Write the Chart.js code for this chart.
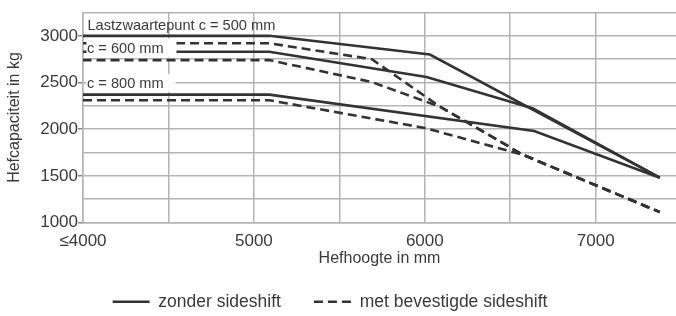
<!DOCTYPE html>
<html>
<head>
<meta charset="utf-8">
<script src="https://cdn.jsdelivr.net/npm/chart.js@4.4.1/dist/chart.umd.min.js"></script>
<style>
  html, body { margin: 0; padding: 0; background: #fff; }
  canvas { display: block; }
</style>
</head>
<body>
<canvas id="liftChart" width="676" height="316"></canvas>
<script>
// hefhoogte (mm) en hefcapaciteit (kg) per lastzwaartepunt
const solid500X = [4000, 5090, 6030, 7375];
const solid500Y = [3000, 3000, 2800, 1480];
const solid600X = [4000, 5090, 6010, 6630, 7375];
const solid600Y = [2830, 2830, 2560, 2225, 1480];
const solid800X = [4000, 5090, 6640, 7375];
const solid800Y = [2370, 2370, 1980, 1480];

const dashed500X = [4000, 5090, 5690, 6090, 6575, 7375];
const dashed500Y = [2920, 2920, 2750, 2240, 1725, 1112];
const dashed600X = [4000, 5090, 5690, 6090, 6575, 7375];
const dashed600Y = [2740, 2740, 2505, 2240, 1725, 1112];
const dashed800X = [4000, 5090, 6000, 6575, 7375];
const dashed800Y = [2310, 2310, 2013, 1725, 1112];

const xGridValues = [4000, 4500, 5000, 5500, 6000, 6500, 7000];
const xTickLabels = { 4000: '≤4000', 5000: '5000', 6000: '6000', 7000: '7000' };
const yTickLabels = [1000, 1500, 2000, 2500, 3000];

const seriesLabels = ['zonder sideshift', 'met bevestigde sideshift'];
const curveLabels = ['Lastzwaartepunt c = 500 mm', 'c = 600 mm', 'c = 800 mm'];

const LINE = '#333333';
const GRID = '#b4b4b4';
const TEXT = '#3a3a3a';
const FONT = "'Liberation Sans', Arial, sans-serif";
const DASH = [9, 5];

function pts(xs, ys) {
    return xs.map((x, i) => ({ x: x, y: ys[i] }));
}

function makeSet(label, xs, ys, dashed) {
    return {
        label: label,
        data: pts(xs, ys),
        borderColor: LINE,
        backgroundColor: LINE,
        borderWidth: 2.6,
        borderDash: dashed ? DASH : [],
        borderDashOffset: 0,
        pointRadius: 0,
        pointHoverRadius: 0,
        tension: 0,
        fill: false
    };
}

// streepjes van samenvallende stippellijnen gelijk laten lopen
const dashSync = {
    id: 'dashSync',
    afterLayout(chart) {
        const xs = chart.scales.x;
        const ys = chart.scales.y;
        const period = DASH[0] + DASH[1];
        const mergeX = 6575;
        const lenTo = (X, Y) => {
            let L = 0;
            for (let i = 1; i < X.length && X[i - 1] < mergeX; i++) {
                const dx = xs.getPixelForValue(X[i]) - xs.getPixelForValue(X[i - 1]);
                const dy = ys.getPixelForValue(Y[i]) - ys.getPixelForValue(Y[i - 1]);
                L += Math.hypot(dx, dy);
            }
            return L;
        };
        const ref = lenTo(dashed800X, dashed800Y);
        const sets = chart.data.datasets;
        sets[3].borderDashOffset = (((ref - lenTo(dashed500X, dashed500Y)) % period) + period) % period;
        sets[4].borderDashOffset = (((ref - lenTo(dashed600X, dashed600Y)) % period) + period) % period;
    }
};

// tekst bij de curves, met witte achtergrond voor c = 600 / c = 800
const curveText = {
    id: 'curveText',
    beforeDraw(chart) {
        // legenda iets naar links, zoals in het origineel
        if (chart.legend) chart.legend.right = chart.width - 16;
    },
    afterDatasetsDraw(chart) {
        const ctx = chart.ctx;
        const xs = chart.scales.x;
        const ys = chart.scales.y;
        const left = xs.getPixelForValue(4000);
        ctx.save();
        ctx.font = '14.6px ' + FONT;
        ctx.fillStyle = TEXT;
        ctx.textBaseline = 'alphabetic';
        ctx.textAlign = 'left';

        ctx.fillText(curveLabels[0], left + 4.5, ys.getPixelForValue(3000) - 5.8);

        // c = 600 mm
        let yc = (ys.getPixelForValue(3000) + ys.getPixelForValue(2740)) / 2;
        ctx.fillStyle = '#fff';
        ctx.fillRect(left + 3.5, yc - 9.5, 90, 19);
        ctx.fillStyle = TEXT;
        ctx.fillText(curveLabels[1], left + 4, yc + 5.2);

        // c = 800 mm
        yc = ys.getPixelForValue(2500) + 1;
        ctx.fillStyle = '#fff';
        ctx.fillRect(left + 3.5, yc - 9.5, 89, 18);
        ctx.fillStyle = TEXT;
        ctx.fillText(curveLabels[2], left + 4, yc + 4.8);
        ctx.restore();
    }
};

const chart = new Chart(document.getElementById('liftChart'), {
    type: 'line',
    data: {
        datasets: [
            makeSet(seriesLabels[0], solid500X, solid500Y, false),
            makeSet(seriesLabels[0], solid600X, solid600Y, false),
            makeSet(seriesLabels[0], solid800X, solid800Y, false),
            makeSet(seriesLabels[1], dashed500X, dashed500Y, true),
            makeSet(seriesLabels[1], dashed600X, dashed600Y, true),
            makeSet(seriesLabels[1], dashed800X, dashed800Y, true)
        ]
    },
    options: {
        responsive: false,
        animation: false,
        layout: { padding: { top: 12.5, right: 0, bottom: 0, left: 0 } },
        plugins: {
            tooltip: { enabled: false },
            legend: {
                position: 'bottom',
                maxHeight: 56,
                labels: {
                    usePointStyle: true,
                    pointStyle: 'line',
                    pointStyleWidth: 37,
                    padding: 33,
                    color: TEXT,
                    font: { family: FONT, size: 17.5 },
                    filter: item => item.datasetIndex === 0 || item.datasetIndex === 3,
                    generateLabels(chart) {
                        const items = Chart.defaults.plugins.legend.labels.generateLabels(chart);
                        return items.map(item => {
                            const ds = chart.data.datasets[item.datasetIndex];
                            item.lineDash = ds.borderDash;
                            item.lineDashOffset = 0;
                            item.lineWidth = ds.borderWidth;
                            item.strokeStyle = ds.borderColor;
                            item.pointStyle = 'line';
                            return item;
                        });
                    }
                }
            }
        },
        scales: {
            x: {
                type: 'linear',
                min: 4000,
                max: 7470,
                bounds: 'data',
                afterBuildTicks: s => { s.ticks = xGridValues.map(v => ({ value: v })); },
                afterFit: s => { s.height = 37.5; },
                grid: { color: GRID, lineWidth: 1.5, drawTicks: false },
                border: { color: GRID, width: 1.5 },
                ticks: {
                    autoSkip: false,
                    maxRotation: 0,
                    padding: 9,
                    color: TEXT,
                    font: { family: FONT, size: 17 },
                    callback: v => xTickLabels[v] || ''
                },
                title: {
                    display: true,
                    text: 'Hefhoogte in mm',
                    color: TEXT,
                    font: { family: FONT, size: 16 },
                    padding: { top: 0, bottom: -8 }
                }
            },
            y: {
                min: 1000,
                max: 3250,
                afterFit: s => { s.width = 83; },
                grid: {
                    color: GRID,
                    lineWidth: 1.5,
                    drawTicks: true,
                    tickLength: 5,
                    tickColor: c => (c.tick && yTickLabels.includes(c.tick.value)) ? '#888' : 'rgba(0,0,0,0)'
                },
                border: { color: GRID, width: 1.5 },
                ticks: {
                    stepSize: 250,
                    autoSkip: false,
                    padding: 0,
                    color: TEXT,
                    font: { family: FONT, size: 17 },
                    callback: v => yTickLabels.includes(v) ? String(v) : ''
                },
                title: {
                    display: true,
                    text: 'Hefcapaciteit in kg',
                    color: TEXT,
                    font: { family: FONT, size: 16 },
                    padding: { top: 5, bottom: 0 }
                }
            }
        }
    },
    plugins: [dashSync, curveText]
});
</script>
</body>
</html>
